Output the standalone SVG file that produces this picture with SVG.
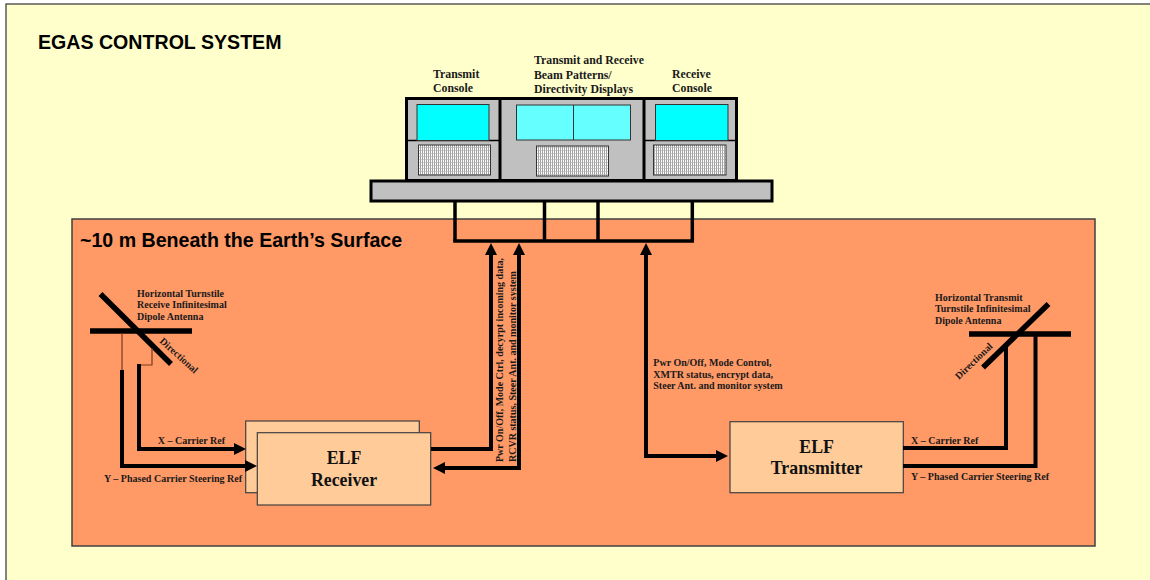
<svg xmlns="http://www.w3.org/2000/svg" width="1150" height="580" viewBox="0 0 1150 580">
  <style>
    .lbl{font-family:"Liberation Serif","Times New Roman",serif;font-weight:bold;font-size:10px;fill:#1a1a1a}
    .clbl{font-family:"Liberation Serif","Times New Roman",serif;font-weight:bold;font-size:11.8px;fill:#1a1a1a}
    .big{font-family:"Liberation Serif","Times New Roman",serif;font-weight:bold;font-size:17.8px;fill:#111;text-anchor:middle}
    .title{font-family:"Liberation Sans",Arial,sans-serif;font-weight:bold;font-size:19.6px;fill:#000}
    .conn{fill:none;stroke:#000;stroke-width:4}
    .thin{fill:none;stroke:#7a3a1a;stroke-width:1.2}
    .ant{stroke:#000;stroke-width:5.5;fill:none}
    .box{fill:#FFCC99;stroke:#404040;stroke-width:1.2}
    .scr{stroke:#333;stroke-width:1}
    .kb{fill:url(#grid);stroke:#333;stroke-width:1}
  </style>
  <defs>
    <marker id="ah" viewBox="0 0 12 12" refX="3" refY="6" markerWidth="12" markerHeight="12" markerUnits="userSpaceOnUse" orient="auto-start-reverse">
      <path d="M0,0 L12,6 L0,12 z" fill="#000"/>
    </marker>
    <pattern id="grid" width="2" height="3" patternUnits="userSpaceOnUse">
      <rect width="2" height="3" fill="#ffffff"/>
      <rect x="0" y="0" width="0.8" height="3" fill="#8a8a8a"/>
      <rect x="0" y="0" width="2" height="0.6" fill="#b0b0b0"/>
    </pattern>
  </defs>

  <!-- background frame -->
  <rect x="0" y="0" width="1150" height="580" fill="#ffffff"/>
  <rect x="6" y="4" width="1150" height="590" fill="#FFFFCC" stroke="#333" stroke-width="1.2"/>
  <text class="title" x="38" y="49">EGAS CONTROL SYSTEM</text>

  <!-- underground region -->
  <g id="underground">
    <rect x="72" y="219" width="1023" height="327" fill="#FF9966" stroke="#404040" stroke-width="1.5"/>
    <text class="title" x="80" y="247">~10 m Beneath the Earth’s Surface</text>
  </g>

  <!-- consoles -->
  <g id="consoles">
    <rect x="406.5" y="98.5" width="330" height="82" fill="#C0C0C0" stroke="#000" stroke-width="3"/>
    <line x1="500" y1="98" x2="500" y2="181" stroke="#000" stroke-width="3"/>
    <line x1="644" y1="98" x2="644" y2="181" stroke="#000" stroke-width="3"/>
    <line x1="407" y1="140.5" x2="500" y2="140.5" stroke="#000" stroke-width="1.3"/>
    <line x1="644" y1="140.5" x2="736" y2="140.5" stroke="#000" stroke-width="1.3"/>
    <!-- transmit console -->
    <rect class="scr" x="417" y="104.5" width="72" height="36" fill="#00FFFF"/>
    <rect class="kb" x="418.5" y="145" width="72" height="30"/>
    <!-- middle displays -->
    <rect class="scr" x="516.5" y="105" width="114" height="35" fill="#66FFFF"/>
    <line x1="573.5" y1="105" x2="573.5" y2="140" stroke="#333" stroke-width="1"/>
    <rect class="kb" x="536.5" y="146" width="72" height="30"/>
    <!-- receive console -->
    <rect class="scr" x="655.5" y="104.5" width="72.5" height="36" fill="#00FFFF"/>
    <rect class="kb" x="653.5" y="145" width="72.5" height="30"/>
    <!-- base -->
    <rect x="371" y="181" width="401" height="20" fill="#C0C0C0" stroke="#000" stroke-width="3"/>
    <text class="clbl" x="433" y="77.7">Transmit</text>
    <text class="clbl" x="433" y="91.7">Console</text>
    <text class="clbl" x="534" y="64.3">Transmit and Receive</text>
    <text class="clbl" x="534" y="79">Beam Patterns/</text>
    <text class="clbl" x="534" y="93.3">Directivity Displays</text>
    <text class="clbl" x="672" y="77.7">Receive</text>
    <text class="clbl" x="672" y="91.7">Console</text>
  </g>

  <!-- receive antenna -->
  <g id="rx-antenna">
    <line class="ant" x1="90" y1="331" x2="192" y2="331"/>
    <line class="ant" x1="100.5" y1="294" x2="171" y2="364"/>
    <text class="lbl" x="137" y="296.7">Horizontal Turnstile</text>
    <text class="lbl" x="137" y="308.3">Receive Infinitesimal</text>
    <text class="lbl" x="137" y="320.3">Dipole Antenna</text>
    <text class="lbl" transform="translate(159,342) rotate(42)">Directional</text>
  </g>

  <!-- transmit antenna -->
  <g id="tx-antenna">
    <line class="ant" x1="969" y1="334" x2="1071" y2="334"/>
    <line class="ant" x1="983" y1="367.5" x2="1048.5" y2="304"/>
    <text class="lbl" x="935" y="300.7">Horizontal Transmit</text>
    <text class="lbl" x="935" y="312.3">Turnstile Infinitesimal</text>
    <text class="lbl" x="935" y="324">Dipole Antenna</text>
    <text class="lbl" transform="translate(959,380) rotate(-44)">Directional</text>
  </g>

  <!-- ELF receiver -->
  <g id="elf-receiver">
    <rect class="box" x="245.7" y="421" width="173.6" height="71.7"/>
    <rect class="box" x="257.3" y="432.7" width="173.4" height="72.3"/>
    <text class="big" x="344" y="464.3">ELF</text>
    <text class="big" x="344" y="485.7">Receiver</text>
  </g>

  <!-- ELF transmitter -->
  <g id="elf-transmitter">
    <rect class="box" x="730" y="421.7" width="173.3" height="71"/>
    <text class="big" x="816.6" y="452.7">ELF</text>
    <text class="big" x="816.6" y="474">Transmitter</text>
  </g>

  <!-- connectors -->
  <g id="connectors">
    <!-- console bus -->
    <g fill="none" stroke="#000" stroke-width="3.5">
      <line x1="455" y1="201" x2="455" y2="241"/>
      <line x1="544.5" y1="201" x2="544.5" y2="241"/>
      <line x1="598" y1="201" x2="598" y2="241"/>
      <line x1="692.3" y1="201" x2="692.3" y2="241"/>
      <line x1="453.2" y1="241" x2="694" y2="241"/>
    </g>
    <!-- receiver links -->
    <path class="conn" d="M431,449 L491,449 L491,252" marker-end="url(#ah)"/>
    <path class="conn" d="M519,252 L519,468 L442,468" marker-start="url(#ah)" marker-end="url(#ah)"/>
    <text class="lbl" transform="translate(503,462) rotate(-90)">Pwr On/Off, Mode Ctrl, decyrpt incoming data,</text>
    <text class="lbl" transform="translate(515.5,462) rotate(-90)">RCVR status, Steer Ant. and monitor system</text>
    <!-- transmitter link -->
    <path class="conn" d="M646,252 L646,456 L719,456" marker-start="url(#ah)" marker-end="url(#ah)"/>
    <text class="lbl" x="653.3" y="366">Pwr On/Off, Mode Control,</text>
    <text class="lbl" x="653.3" y="377.7">XMTR status, encrypt data,</text>
    <text class="lbl" x="653.3" y="389.3">Steer Ant. and monitor system</text>
    <!-- rx antenna feeds -->
    <path class="thin" d="M152,348 L152,365 L139,365"/>
    <path class="thin" d="M122,333 L122,371"/>
    <path class="conn" d="M139,364 L139,449 L237,449" marker-end="url(#ah)"/>
    <path class="conn" d="M122,370 L122,466 L248,466" marker-end="url(#ah)"/>
    <text class="lbl" x="157.7" y="444">X – Carrier Ref</text>
    <text class="lbl" x="104" y="481.7">Y – Phased Carrier Steering Ref</text>
    <!-- tx antenna feeds -->
    <path class="conn" d="M903,448 L1006,448 L1006,346"/>
    <path class="conn" d="M903,466 L1035.5,466 L1035.5,334"/>
    <text class="lbl" x="911" y="444">X – Carrier Ref</text>
    <text class="lbl" x="911" y="480">Y – Phased Carrier Steering Ref</text>
  </g>
</svg>
